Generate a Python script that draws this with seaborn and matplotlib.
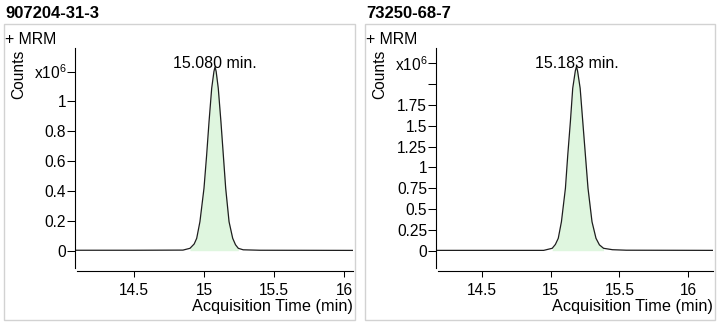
import matplotlib
matplotlib.use("Agg")
import matplotlib.pyplot as plt
import seaborn as sns
import pandas as pd
from matplotlib.patches import Rectangle

# ---------------- data (counts in units of 10^6) ----------------
titles = ["907204-31-3", "73250-68-7"]
peak_labels = ["15.080 min.", "15.183 min."]

time1 = [14.08, 14.50, 14.85, 14.90, 14.93, 14.948, 14.971, 15.000, 15.019, 15.036,
         15.055, 15.071, 15.079, 15.087, 15.102, 15.121, 15.138, 15.155, 15.179,
         15.205, 15.225, 15.245, 15.280, 15.400, 16.07]
counts1 = [0.003, 0.003, 0.004, 0.016, 0.045, 0.083, 0.194, 0.418, 0.641, 0.864,
           1.088, 1.200, 1.232, 1.200, 1.088, 0.864, 0.641, 0.418, 0.194,
           0.083, 0.040, 0.016, 0.006, 0.003, 0.002]

time2 = [14.17, 14.95, 15.012, 15.035, 15.056, 15.079, 15.108, 15.125, 15.144, 15.161,
         15.180, 15.188, 15.196, 15.215, 15.234, 15.253, 15.272, 15.301, 15.330,
         15.355, 15.385, 15.450, 15.550, 16.19]
counts2 = [0.004, 0.004, 0.029, 0.075, 0.149, 0.348, 0.750, 1.149, 1.549, 1.950,
           2.160, 2.210, 2.160, 1.950, 1.549, 1.149, 0.750, 0.348, 0.149,
           0.070, 0.029, 0.012, 0.006, 0.004]

fill_start = [14.90, 15.00]
fill_end = [15.26, 15.42]

xticks = [14.5, 15, 15.5, 16]
xtick_labels = ["14.5", "15", "15.5", "16"]
yticks1 = [0, 0.2, 0.4, 0.6, 0.8, 1.0, 1.2]
ytick_labels1 = ["0", "0.2", "0.4", "0.6", "0.8", "1", "x10$^{\\mathregular{6}}$"]
yticks2 = [0, 0.25, 0.5, 0.75, 1.0, 1.25, 1.5, 1.75, 2.0, 2.25]
ytick_labels2 = ["0", "0.25", "0.5", "0.75", "1", "1.25", "1.5", "1.75", "", "x10$^{\\mathregular{6}}$"]

series = [(time1, counts1), (time2, counts2)]
yticks_all = [yticks1, yticks2]
ylabels_all = [ytick_labels1, ytick_labels2]

# ---------------- layout (pixels) ----------------
W, H = 721, 324
ax_px = [(75, 48.3, 353, 270.7), (436, 48.3, 713.3, 270.7)]
xlims = [(14.079, 16.064), (14.168, 16.182)]
ylims = [(-0.134, 1.356), (-0.240, 2.43)]
lspine_bottom = [-0.116, -0.208]
bspine_left = [14.091, 14.180]
box_px = [(4, 24, 354.5, 319.5), (365, 24, 714.5, 319.5)]

sns.set_theme(style="ticks")
plt.rcParams["font.family"] = ["Liberation Sans", "DejaVu Sans"]
plt.rcParams["text.color"] = "black"
plt.rcParams["axes.labelcolor"] = "black"
plt.rcParams["mathtext.fontset"] = "custom"
plt.rcParams["mathtext.rm"] = "Liberation Sans"
plt.rcParams["mathtext.it"] = "Liberation Sans:italic"
plt.rcParams["mathtext.bf"] = "Liberation Sans:bold"

fig = plt.figure(figsize=(W / 100, H / 100), dpi=100)
fig.patch.set_facecolor("white")

def fx(x):
    return x / W

def fy(y):
    return 1 - y / H

for i in range(2):
    t, c = series[i]
    df = pd.DataFrame({"time": t, "counts": c})
    l, tp, r, b = ax_px[i]
    ax = fig.add_axes([fx(l), fy(b), (r - l) / W, (b - tp) / H])
    ax.set_facecolor("none")

    sub = df[(df.time >= fill_start[i]) & (df.time <= fill_end[i])]
    ax.fill_between(sub.time, sub.counts, 0, color="#dff6df", linewidth=0, zorder=1)
    sns.lineplot(data=df, x="time", y="counts", ax=ax, color="#1e1e1e",
                 linewidth=0.9, estimator=None, sort=False, zorder=2)

    ax.set_xlim(*xlims[i])
    ax.set_ylim(*ylims[i])
    ax.set_xticks(xticks)
    ax.set_xticklabels(xtick_labels)
    ax.set_yticks(yticks_all[i])
    ax.set_yticklabels(ylabels_all[i])
    ax.tick_params(axis="x", direction="out", length=4.3, width=0.75, pad=4.5,
                   labelsize=11.2, colors="black")
    ax.tick_params(axis="y", direction="out", length=5.8, width=0.75, pad=0.5,
                   labelsize=11.2, colors="black")
    for s in ["top", "right"]:
        ax.spines[s].set_visible(False)
    for s in ["left", "bottom"]:
        ax.spines[s].set_color("black")
        ax.spines[s].set_linewidth(0.8)
    ax.spines["left"].set_bounds(lspine_bottom[i], ylims[i][1])
    ax.spines["bottom"].set_bounds(bspine_left[i], xlims[i][1])

    ax.set_ylabel("")
    ax.set_xlabel("Acquisition Time (min)", fontsize=11.7, loc="right", labelpad=1,
                  color="black")

    # peak annotation
    k = max(range(len(c)), key=lambda j: c[j])
    ax.annotate(peak_labels[i], xy=(t[k], c[k]), xytext=(0, -1.2),
                textcoords="offset points", ha="center", va="baseline",
                fontsize=11.5, color="black")

    # panel frame and texts
    bl, bt, br, bb = box_px[i]
    fig.patches.append(Rectangle((fx(bl), fy(bb)), (br - bl) / W, (bb - bt) / H,
                                 transform=fig.transFigure, fill=False,
                                 edgecolor="#d2d2d2", linewidth=1.0))
    fig.text(fx(bl + 1), fy(18), titles[i], fontsize=12, fontweight="bold",
             ha="left", va="baseline", color="black")
    fig.text(fx(bl + 1), fy(44), "+ MRM", fontsize=11.4, ha="left", va="baseline",
             color="black")
    fig.text(fx(bl + 14.5), fy(49.5), "Counts", fontsize=11.2, rotation=90,
             ha="center", va="top", color="black")

fig.savefig("out.png", dpi=100, facecolor="white")
